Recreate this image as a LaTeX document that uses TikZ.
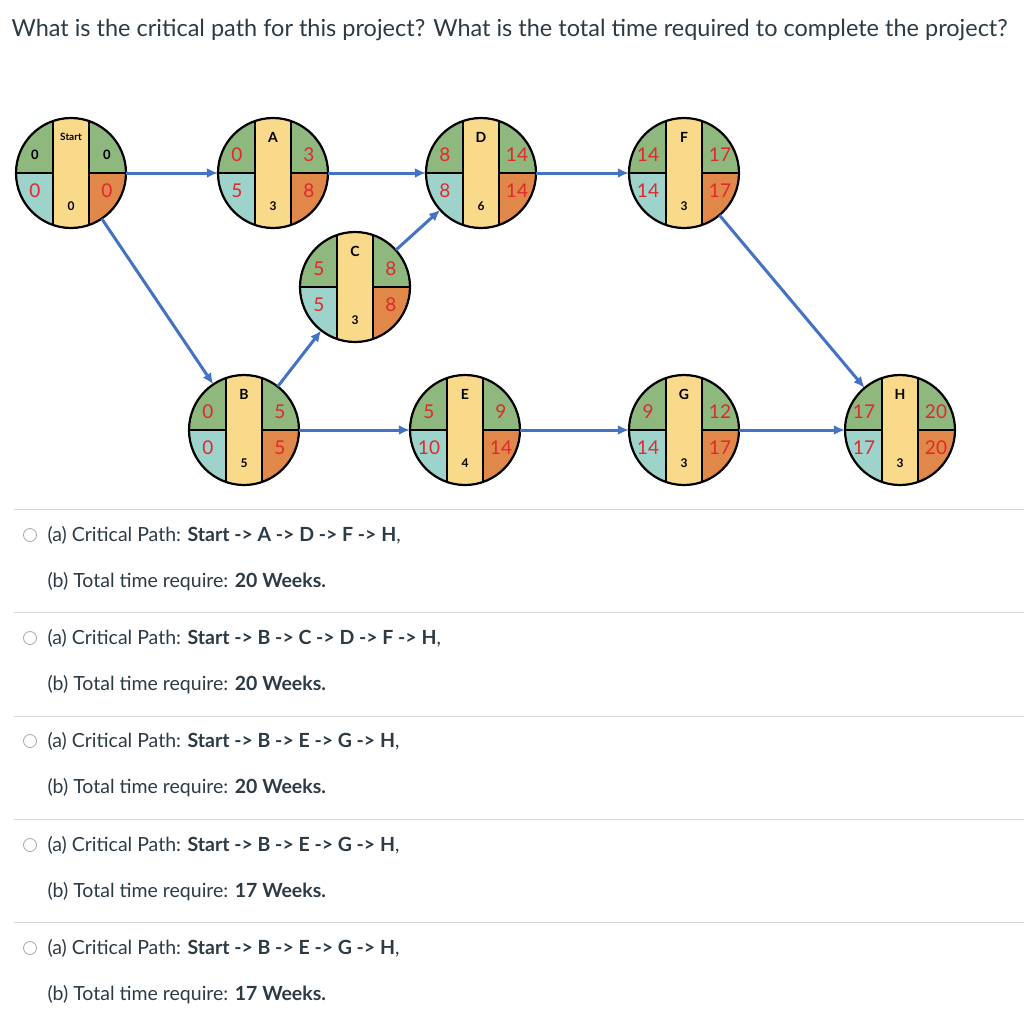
\documentclass[tikz,border=0pt]{standalone}
\usepackage{fontspec}
\setmainfont{Lato}
\usetikzlibrary{arrows.meta}
\definecolor{pg}{HTML}{8FB87E}
\definecolor{pc}{HTML}{9ED3CB}
\definecolor{po}{HTML}{E0884A}
\definecolor{py}{HTML}{F9D98A}
\definecolor{pr}{HTML}{E0282E}
\definecolor{pb}{HTML}{4472C4}
\definecolor{pl}{HTML}{D6D6D6}
\definecolor{tx}{HTML}{2D3B45}
\tikzset{
  pnodebox/.style={circle,minimum size=110pt,inner sep=0pt},
  conn/.style={pb,line width=3pt,-{Latex[length=11pt,width=10pt]}},
  sep/.style={pl,line width=1pt},
  radio/.style={circle,draw=gray!70,minimum size=13pt,inner sep=0pt,line width=0.8pt},
  opt/.style={anchor=west,font=\fontsize{19.5}{21}\selectfont,text=tx}
}
\newcommand\pn[9]{%
 \node[pnodebox] (#1) at (#2,#3) {};
 \begin{scope}[shift={(#2,#3)}]
  \begin{scope}
   \clip (0,0) circle (55);
   \fill[pg] (-60,0) rectangle (0,-60);
   \fill[pc] (-60,0) rectangle (0,60);
   \fill[pg] (0,0) rectangle (60,-60);
   \fill[po] (0,0) rectangle (60,60);
   \fill[py] (-18,-60) rectangle (18,60);
   \draw[line width=2pt] (-18,-60) -- (-18,60) (18,-60) -- (18,60) (-60,0) -- (-18,0) (18,0) -- (60,0);
  \end{scope}
  \draw[line width=2.2pt] (0,0) circle (55);
  \node at (0,-36) {#4};
  \node at (0,33) {\bfseries\fontsize{12}{12}\selectfont #5};
  \node at (-36,-18) {#6};
  \node at (36,-18) {#7};
  \node at (-36,18) {#8};
  \node at (36,18) {#9};
 \end{scope}}
\newcommand\lb[1]{\bfseries\fontsize{14}{14}\selectfont #1}
\newcommand\hd[1]{\fontsize{19}{19}\selectfont\color{pr}#1}
\newcommand\bk[1]{\bfseries\fontsize{13}{13}\selectfont #1}
\begin{document}
\begin{tikzpicture}[x=1pt,y=-1pt]
\useasboundingbox[fill=white] (0,0) rectangle (1024,1021);
\node[anchor=west,font=\fontsize{23.5}{25}\selectfont,text=tx] (title) at (8,30) {What is the critical path for this project? What is the total time required to complete the project?};
\pn{s}{71}{173}{\bfseries\fontsize{10}{10}\selectfont Start}{0}{\bk{0}}{\bk{0}}{\hd{0}}{\hd{0}}
\pn{a}{273}{173}{\lb{A}}{3}{\hd{0}}{\hd{3}}{\hd{5}}{\hd{8}}
\pn{d}{481}{173}{\lb{D}}{6}{\hd{8}}{\hd{14}}{\hd{8}}{\hd{14}}
\pn{f}{684}{173}{\lb{F}}{3}{\hd{14}}{\hd{17}}{\hd{14}}{\hd{17}}
\pn{c}{355}{287}{\lb{C}}{3}{\hd{5}}{\hd{8}}{\hd{5}}{\hd{8}}
\pn{b}{244}{430}{\lb{B}}{5}{\hd{0}}{\hd{5}}{\hd{0}}{\hd{5}}
\pn{e}{465}{430}{\lb{E}}{4}{\hd{5}}{\hd{9}}{\hd{10}}{\hd{14}}
\pn{g}{684}{430}{\lb{G}}{3}{\hd{9}}{\hd{12}}{\hd{14}}{\hd{17}}
\pn{h}{900}{430}{\lb{H}}{3}{\hd{17}}{\hd{20}}{\hd{17}}{\hd{20}}
\draw[conn] (s) -- (a);
\draw[conn] (s) -- (b);
\draw[conn] (a) -- (d);
\draw[conn] (c) -- (d);
\draw[conn] (b) -- (c);
\draw[conn] (b) -- (e);
\draw[conn] (d) -- (f);
\draw[conn] (e) -- (g);
\draw[conn] (f) -- (h);
\draw[conn] (g) -- (h);
\foreach \y in {509,612,716,819,922} \draw[sep] (14,\y) -- (1024,\y);
\foreach \i/\y/\pth/\wk in {1/535/A -> D -> F -> H/20,2/638/B -> C -> D -> F -> H/20,3/741/B -> E -> G -> H/20,4/845/B -> E -> G -> H/17,5/948/B -> E -> G -> H/17}{
  \node[radio] (r\i) at (30,\y) {};
  \node[opt] (q\i) at (44,\y) {(a) Critical Path: \textbf{Start -> \pth},};
  \node[opt] (w\i) at (44,\y+47) {(b) Total time require: \textbf{\wk{} Weeks.}};
}
\end{tikzpicture}
\end{document}
